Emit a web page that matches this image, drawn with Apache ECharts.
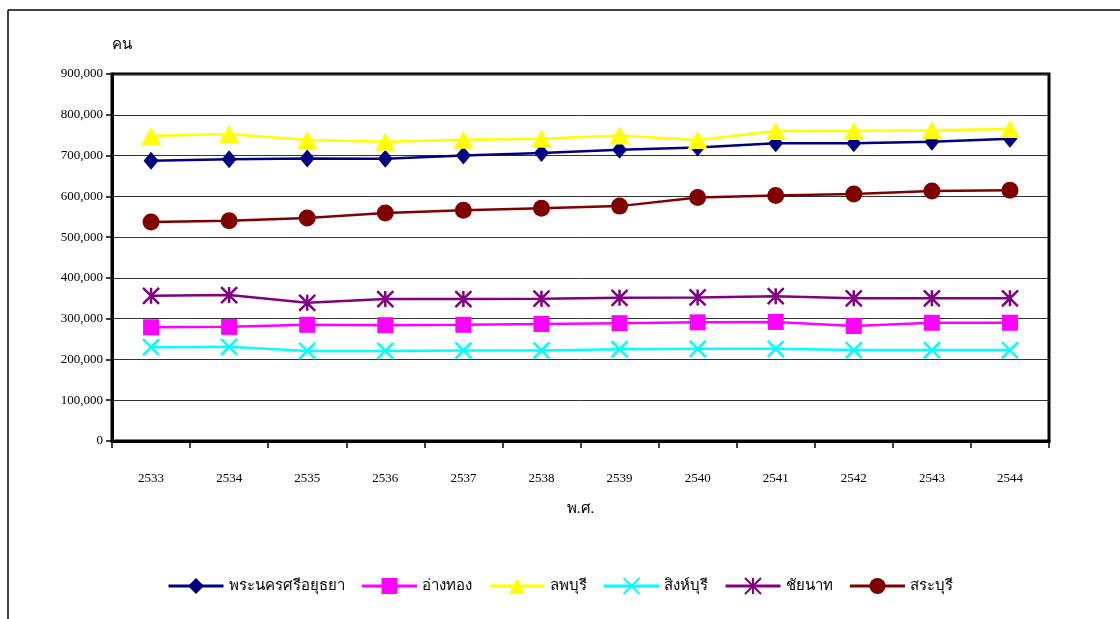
<!DOCTYPE html>
<html>
<head>
<meta charset="utf-8">
<script src="https://cdn.jsdelivr.net/npm/echarts@6/dist/echarts.min.js"></script>
<style>
html,body{margin:0;padding:0;background:#fff;}
#c{width:1120px;height:619px;}
</style>
</head>
<body>
<div id="c"></div>
<script>
const years = ['2533','2534','2535','2536','2537','2538','2539','2540','2541','2542','2543','2544'];
const ayutthaya = [687000,691000,693000,692000,700000,706000,714000,720000,730000,730000,734000,741000];
const angthong  = [279000,280000,285000,284000,285000,287000,289000,291000,292000,282000,290000,290000];
const lopburi   = [748000,753000,738000,734000,739000,741000,749000,738000,760000,760000,762000,765000];
const singburi  = [230000,231000,221000,221000,222000,222000,225000,226000,226000,223000,223000,223000];
const chainat   = [356000,358000,339000,348000,348000,349000,351000,352000,355000,350000,350000,350000];
const saraburi  = [537000,540000,547000,559000,566000,571000,576000,597000,602000,606000,613000,615000];
const yTicks = [0,100000,200000,300000,400000,500000,600000,700000,800000,900000];

const names = ['พระนครศรีอยุธยา','อ่างทอง','ลพบุรี','สิงห์บุรี','ชัยนาท','สระบุรี'];
const dataSets = [ayutthaya, angthong, lopburi, singburi, chainat, saraburi];
const colors = ['#000080','#FF00FF','#FFFF00','#00FFFF','#800080','#800000'];
const symbols = [
  'diamond',
  'rect',
  'triangle',
  'path://M0,0L10,10M10,0L0,10',
  'path://M0,0L10,10M10,0L0,10M5,0L5,10',
  'circle'
];
const sizes = [[15,18],16,[20,18],16,16,17];

const chart = echarts.init(document.getElementById('c'));
const serif = '"Liberation Serif","Times New Roman",serif';
const thai = '"Liberation Serif","Noto Sans","DejaVu Sans",serif';

const series = names.map((n,i)=>{
  const isPath = symbols[i].startsWith('path');
  return {
    name: n,
    type: 'line',
    data: dataSets[i],
    symbol: symbols[i],
    symbolSize: sizes[i],
    showAllSymbol: true,
    lineStyle: {color: colors[i], width: 2.5},
    itemStyle: isPath ? {color: colors[i], borderColor: colors[i], borderWidth: 2.5} : {color: colors[i], borderWidth: 0},
    emphasis: {disabled: true},
    animation: false
  };
});

chart.setOption({
  animation: false,
  color: colors,
  grid: {left: 112, right: 71, top: 74, bottom: 178, show: true, borderColor: '#000', borderWidth: 3, backgroundColor: 'transparent'},
  legend: {
    top: 572, left: 'center',
    itemWidth: 55, itemHeight: 20, itemGap: 16,
    lineStyle: {width: 3},
    textStyle: {fontFamily: thai, fontSize: 15, color: '#000'},
    data: names
  },
  xAxis: {
    type: 'category',
    data: years,
    boundaryGap: true,
    name: 'พ.ศ.',
    nameLocation: 'middle',
    nameGap: 61,
    nameTextStyle: {fontFamily: thai, fontSize: 15, color: '#000'},
    axisLine: {lineStyle: {color: '#000', width: 3}},
    axisTick: {show: true, alignWithLabel: false, length: 7, lineStyle: {color: '#000', width: 1.5}},
    axisLabel: {margin: 31, fontFamily: serif, fontSize: 13, color: '#000'},
    splitLine: {show: false}
  },
  yAxis: {
    type: 'value',
    min: 0, max: 900000, interval: 100000,
    name: 'คน',
    nameLocation: 'end',
    nameGap: 21,
    nameTextStyle: {fontFamily: thai, fontSize: 15, color: '#000', align: 'left'},
    axisLine: {show: true, lineStyle: {color: '#000', width: 3}},
    axisTick: {show: true, length: 6, lineStyle: {color: '#000', width: 1.5}},
    axisLabel: {margin: 9, fontFamily: serif, fontSize: 13, color: '#000',
      formatter: v => yTicks.includes(v) ? v.toLocaleString('en-US') : ''},
    splitLine: {show: true, lineStyle: {color: '#333', width: 1}}
  },
  graphic: [
    {type: 'line', shape: {x1: 8, y1: 10, x2: 1120, y2: 10}, style: {stroke: '#000', lineWidth: 1.5}, silent: true},
    {type: 'line', shape: {x1: 8, y1: 10, x2: 8, y2: 619}, style: {stroke: '#000', lineWidth: 1.5}, silent: true}
  ],
  series: series
});
</script>
</body>
</html>
